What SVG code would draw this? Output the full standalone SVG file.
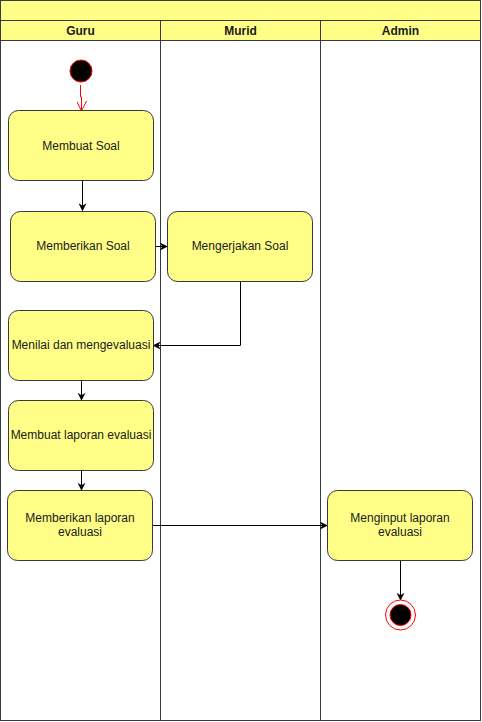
<svg xmlns="http://www.w3.org/2000/svg" width="482" height="722" viewBox="0 0 482 722">
<defs>
<style>
.lane{fill:none;stroke:#36393d;stroke-width:1}
.band{fill:#ffff88;stroke:#36393d;stroke-width:1}
.node rect{fill:#ffff88;stroke:#36393d;stroke-width:1}
text{font-family:"Liberation Sans",Arial,Helvetica,sans-serif;font-size:12px;fill:#1a1a1a;text-anchor:middle;dominant-baseline:central}
.hdr{font-weight:bold}
.edge{fill:none;stroke:#000;stroke-width:1}
</style>
<marker id="arr" viewBox="0 0 10 10" refX="9" refY="5" markerWidth="8" markerHeight="8" markerUnits="userSpaceOnUse" orient="auto">
<path d="M0,0 L10,5 L0,10 L3,5 Z" fill="#000"/>
</marker>
<marker id="open" viewBox="0 0 10 10" refX="9" refY="5" markerWidth="10" markerHeight="10" markerUnits="userSpaceOnUse" orient="auto">
<path d="M0,0 L10,5 L0,10" fill="none" stroke="#ff0000" stroke-width="1"/>
</marker>
</defs>
<g id="pool">
<rect class="band" x="0.5" y="0.5" width="480" height="20"/>
<rect class="band" x="0.5" y="20.5" width="160" height="20"/>
<rect class="band" x="160.5" y="20.5" width="160" height="20"/>
<rect class="band" x="320.5" y="20.5" width="160" height="20"/>
<rect class="lane" x="0.5" y="40.5" width="160" height="680"/>
<rect class="lane" x="160.5" y="40.5" width="160" height="680"/>
<rect class="lane" x="320.5" y="40.5" width="160" height="680"/>
<text class="hdr" x="80.5" y="30.5">Guru</text>
<text class="hdr" x="240.5" y="30.5">Murid</text>
<text class="hdr" x="400.5" y="30.5">Admin</text>
</g>
<g id="edges">
<path d="M80.5,85 L80.5,97 L81.5,97 L81.5,110" fill="none" stroke="#ff0000" stroke-width="1" marker-end="url(#open)"/>
<path class="edge" d="M82.5,180.5 L82.5,210.5" marker-end="url(#arr)"/>
<path class="edge" d="M155.5,246.5 L167,246.5" marker-end="url(#arr)"/>
<path class="edge" d="M240.5,281.5 L240.5,345.5 L153.5,345.5" marker-end="url(#arr)"/>
<path class="edge" d="M81.5,380.5 L81.5,400" marker-end="url(#arr)"/>
<path class="edge" d="M81.5,470.5 L81.5,490" marker-end="url(#arr)"/>
<path class="edge" d="M152.5,525.5 L327,525.5" marker-end="url(#arr)"/>
<path class="edge" d="M400.5,560.5 L400.5,600" marker-end="url(#arr)"/>
</g>
<g id="start">
<circle cx="81" cy="71" r="11" fill="#000" stroke="#ff0000" stroke-width="1"/>
</g>
<g id="n1" class="node"><rect x="8.5" y="110.5" width="145" height="70" rx="10"/><text x="81" y="145.5">Membuat Soal</text></g>
<g id="n2" class="node"><rect x="10.5" y="211.5" width="145" height="70" rx="10"/><text x="83" y="246">Memberikan Soal</text></g>
<g id="n3" class="node"><rect x="167.5" y="211.5" width="145" height="70" rx="10"/><text x="240" y="246">Mengerjakan Soal</text></g>
<g id="n4" class="node"><rect x="8.5" y="310.5" width="145" height="70" rx="10"/><text x="81" y="345">Menilai dan mengevaluasi</text></g>
<g id="n5" class="node"><rect x="8.5" y="400.5" width="145" height="70" rx="10"/><text x="81" y="435">Membuat laporan evaluasi</text></g>
<g id="n6" class="node"><rect x="7.5" y="490.5" width="145" height="70" rx="10"/><text x="80" y="518">Memberikan laporan</text><text x="80" y="532">evaluasi</text></g>
<g id="n7" class="node"><rect x="327.5" y="490.5" width="145" height="70" rx="10"/><text x="400" y="518">Menginput laporan</text><text x="400" y="532">evaluasi</text></g>
<g id="end">
<circle cx="400.5" cy="615" r="15" fill="#fff" stroke="#ff0000" stroke-width="1"/>
<circle cx="400.5" cy="615" r="10.5" fill="#000" stroke="#ff0000" stroke-width="1"/>
</g>
</svg>
